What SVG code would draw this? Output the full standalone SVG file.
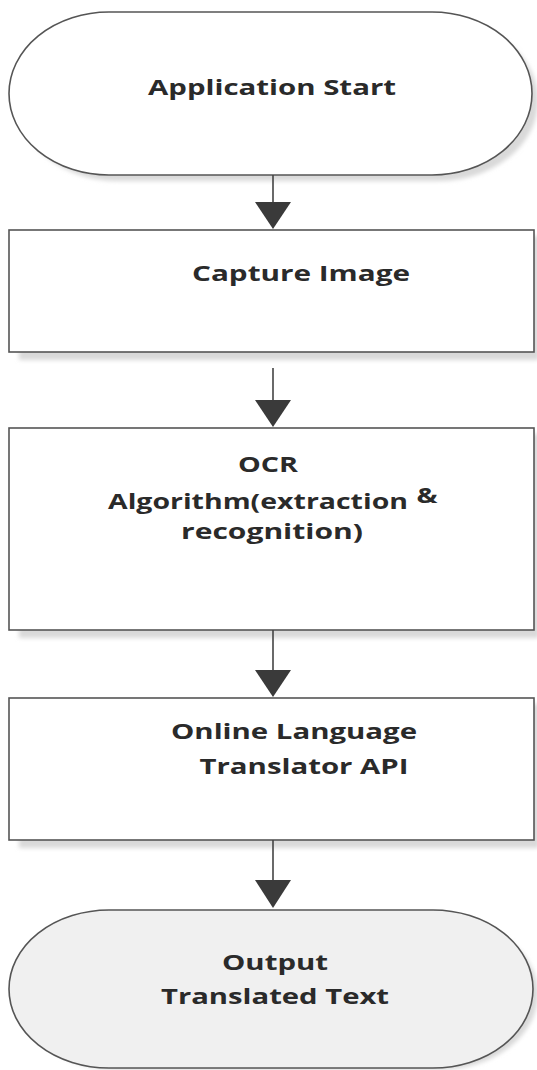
<svg xmlns="http://www.w3.org/2000/svg" width="537" height="1070" viewBox="0 0 537 1070">
<defs>
<style>
.node{fill:#ffffff;stroke:#555555;stroke-width:1.6}
.term2{fill:#f0f0f0;stroke:#555555;stroke-width:1.6}
.shadow{fill:#d9d9d9}
.lbl{font-family:"Open Sans","Liberation Sans",sans-serif;font-weight:bold;font-size:21.5px;fill:#2a2a2a;text-anchor:middle}
.conn{stroke:#444444;stroke-width:1.6;fill:none}
.head{fill:#3a3a3a}
</style>
<filter id="blur" x="-5%" y="-5%" width="110%" height="120%"><feGaussianBlur stdDeviation="2"/></filter>
</defs>
<rect width="537" height="1070" fill="#ffffff"/>
<g id="start">
<rect class="shadow" x="18" y="20" width="520" height="161" rx="100" ry="80" filter="url(#blur)"/>
<rect class="node" x="9" y="12" width="523" height="163" rx="100" ry="81.5"/>
<text class="lbl" x="272" y="95" textLength="248" lengthAdjust="spacingAndGlyphs">Application Start</text>
</g>
<g id="capture">
<rect class="shadow" x="19" y="236" width="520" height="124" filter="url(#blur)"/>
<rect class="node" x="9" y="230" width="525" height="122"/>
<text class="lbl" x="301" y="281" textLength="218" lengthAdjust="spacingAndGlyphs">Capture Image</text>
</g>
<g id="ocr">
<rect class="shadow" x="19" y="434" width="520" height="204" filter="url(#blur)"/>
<rect class="node" x="9" y="428" width="525" height="202"/>
<text class="lbl" x="268" y="472" textLength="60" lengthAdjust="spacingAndGlyphs">OCR</text>
<text class="lbl" x="258" y="509" textLength="300" lengthAdjust="spacingAndGlyphs">Algorithm(extraction</text>
<text class="lbl" x="427" y="503" textLength="21" lengthAdjust="spacingAndGlyphs">&amp;</text>
<text class="lbl" x="272" y="539" textLength="182" lengthAdjust="spacingAndGlyphs">recognition)</text>
</g>
<g id="translator">
<rect class="shadow" x="19" y="704" width="520" height="144" filter="url(#blur)"/>
<rect class="node" x="9" y="698" width="525" height="142"/>
<text class="lbl" x="294" y="739" textLength="246" lengthAdjust="spacingAndGlyphs">Online Language</text>
<text class="lbl" x="304" y="774" textLength="209" lengthAdjust="spacingAndGlyphs">Translator API</text>
</g>
<g id="output">
<rect class="shadow" x="18" y="918" width="520" height="152" rx="100" ry="78" filter="url(#blur)"/>
<rect class="term2" x="9" y="910" width="524" height="158" rx="100" ry="79"/>
<text class="lbl" x="275" y="970" textLength="106" lengthAdjust="spacingAndGlyphs">Output</text>
<text class="lbl" x="275" y="1004" textLength="228" lengthAdjust="spacingAndGlyphs">Translated Text</text>
</g>
<g id="connectors">
<line class="conn" x1="273" y1="175" x2="273" y2="205"/>
<polygon class="head" points="255,202 291,202 273,229"/>
<line class="conn" x1="273" y1="368" x2="273" y2="405"/>
<polygon class="head" points="255,400 291,400 273,427"/>
<line class="conn" x1="273" y1="630" x2="273" y2="675"/>
<polygon class="head" points="255,670 291,670 273,697"/>
<line class="conn" x1="273" y1="840" x2="273" y2="885"/>
<polygon class="head" points="255,880 291,880 273,908"/>
</g>
</svg>
